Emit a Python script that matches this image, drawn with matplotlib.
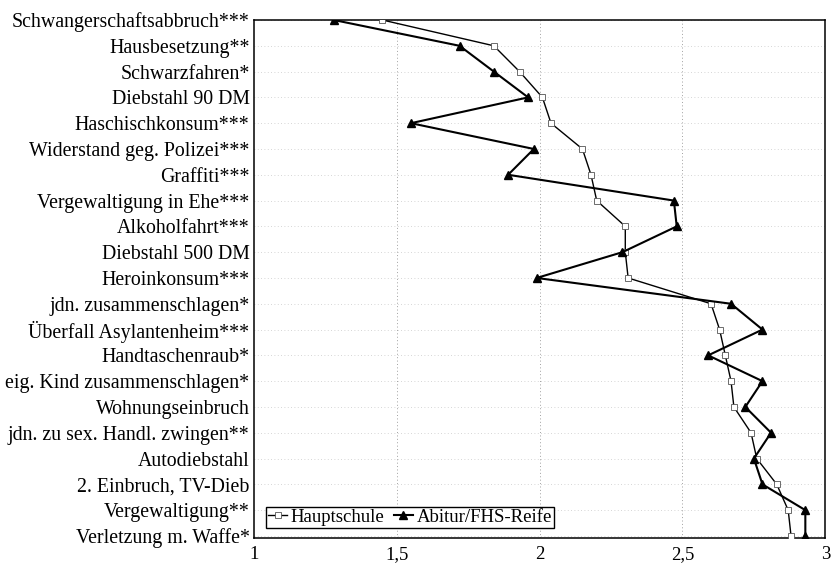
import numpy as np
import matplotlib
matplotlib.use('Agg')
import matplotlib.pyplot as plt
from matplotlib import rcParams

rcParams['font.family'] = 'serif'
rcParams['font.serif'] = ['Liberation Serif']
rcParams['font.size'] = 13.5

# offences, top to bottom
delikte = ['Schwangerschaftsabbruch***', 'Hausbesetzung**', 'Schwarzfahren*',
           'Diebstahl 90 DM', 'Haschischkonsum***',
           'Widerstand geg. Polizei***', 'Graffiti***',
           'Vergewaltigung in Ehe***', 'Alkoholfahrt***', 'Diebstahl 500 DM',
           'Heroinkonsum***', 'jdn. zusammenschlagen*',
           'Überfall Asylantenheim***', 'Handtaschenraub*',
           'eig. Kind zusammenschlagen*', 'Wohnungseinbruch',
           'jdn. zu sex. Handl. zwingen**', 'Autodiebstahl',
           '2. Einbruch, TV-Dieb', 'Vergewaltigung**', 'Verletzung m. Waffe*']

hauptschule = [1.45, 1.84, 1.93, 2.01, 2.04, 2.15, 2.18, 2.20, 2.30, 2.30,
               2.31, 2.60, 2.63, 2.65, 2.67, 2.68, 2.74, 2.76, 2.83, 2.87,
               2.88]
abitur = [1.28, 1.72, 1.84, 1.96, 1.55, 1.98, 1.89, 2.47, 2.48, 2.29,
          1.99, 2.67, 2.78, 2.59, 2.78, 2.72, 2.81, 2.75, 2.78, 2.93, 2.93]

xticks = [1, 1.5, 2, 2.5, 3]
xticklabels = ['1', '1,5', '2', '2,5', '3']

pos = np.arange(len(delikte))

fig = plt.figure(figsize=(8.32, 5.68), dpi=100)
ax = fig.add_axes([0.305, 0.0528, 0.687, 0.912])

# faint dotted grid
for y in pos:
    ax.axhline(y, color='#c8c8c8', lw=0.6, ls=(0, (1, 3)), zorder=0)
for x in xticks[1:-1]:
    ax.axvline(x, color='#a0a0a0', lw=0.7, ls=(0, (1, 2.5)), zorder=0)

ax.plot(hauptschule, pos, color='k', lw=1.0, marker='s', ms=4.5,
        mfc='white', mec='#555555', mew=0.6, label='Hauptschule', zorder=3)
ax.plot(abitur, pos, color='k', lw=1.5, marker='^', ms=5.5,
        mfc='k', mec='k', label='Abitur/FHS-Reife', zorder=4)

ax.set_xlim(1, 3)
ax.set_ylim(len(delikte) - 1 + 0.08, 0)
ax.set_yticks(pos)
ax.set_yticklabels(delikte, fontsize=14.3)
ax.set_xticks(xticks)
ax.set_xticklabels(xticklabels)
ax.tick_params(axis='both', length=0)
ax.tick_params(axis='y', pad=3)
ax.tick_params(axis='x', pad=6)

for sp in ax.spines.values():
    sp.set_linewidth(1.1)

leg = ax.legend(loc='lower left', bbox_to_anchor=(0.022, 0.02), ncol=2,
                borderaxespad=0, handlelength=1.0, handletextpad=0.2,
                columnspacing=0.5, borderpad=0.1, fancybox=False,
                framealpha=1, edgecolor='k')
leg.get_frame().set_linewidth(1.0)

plt.savefig('out.png', dpi=100)
